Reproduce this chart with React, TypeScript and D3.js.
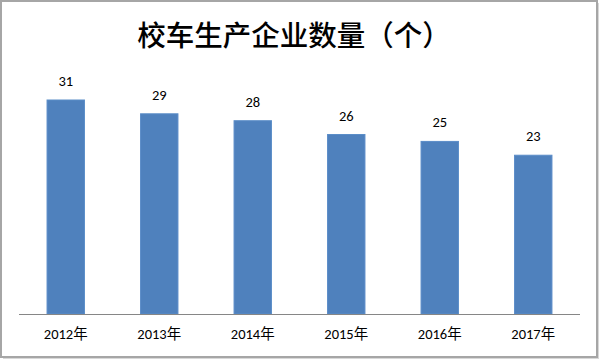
import React from "react";
import * as d3 from "d3";

const categories = ["2012年", "2013年", "2014年", "2015年", "2016年", "2017年"];
const values = [31, 29, 28, 26, 25, 23];
const title = "校车生产企业数量（个）";

export default function App() {
  const W = 600, H = 360;
  const x0 = 19, x1 = 580, yBase = 314;
  const x = d3.scaleBand<string>().domain(categories).range([x0, x1]).paddingInner(0.6).paddingOuter(0.3);
  const y = d3.scaleLinear().domain([0, 31]).range([yBase, 100]);
  const font = "Calibri, 'Liberation Sans', 'Noto Sans CJK SC', sans-serif";
  return (
    <svg width={W} height={H} style={{ position: "absolute", left: 0, top: 0 }}>
      <rect x={0} y={0} width={W} height={H} fill="#fff" />
      <rect x={1} y={1} width={596} height={356} fill="none" stroke="#a6a6a6" strokeWidth={2} />
      <rect x={598} y={3} width={1} height={356} fill="#d8d8d8" />
      <rect x={3} y={358} width={596} height={1} fill="#d8d8d8" />
      <text x={294} y={46} textAnchor="middle" fontSize={28.5} fontWeight={500} fontFamily="'Noto Sans CJK SC', sans-serif" fill="#000">{title}</text>
      {categories.map((c, i) => (
        <g key={c}>
          <rect x={x(c)} y={y(values[i])} width={x.bandwidth()} height={yBase - y(values[i])} fill="#4F81BD" stroke="#5b8dc8" strokeWidth={1} />
          <text x={(x(c) as number) + x.bandwidth() / 2} y={y(values[i]) - 14} textAnchor="middle" fontSize={14.5} fontFamily={font} fill="#000">{values[i]}</text>
          <text x={(x(c) as number) + x.bandwidth() / 2} y={339} textAnchor="middle" fontSize={14.5} fontFamily={font} fill="#000">{c}</text>
        </g>
      ))}
      <line x1={x0} x2={x1} y1={yBase + 0.5} y2={yBase + 0.5} stroke="#868686" strokeWidth={1} />
    </svg>
  );
}
